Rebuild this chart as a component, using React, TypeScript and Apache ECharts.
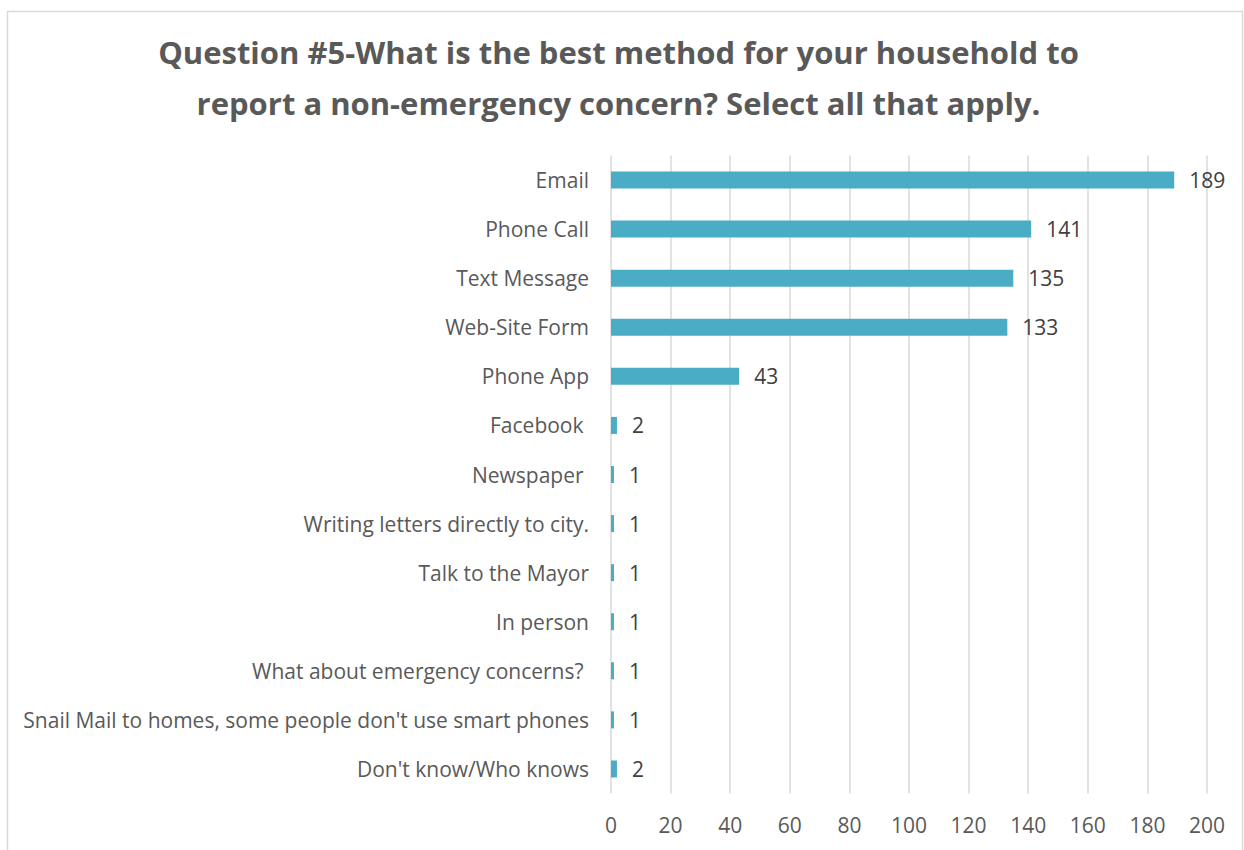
import React, { useEffect, useRef } from "react";
import * as echarts from "echarts";

const categories = [
  "Email",
  "Phone Call",
  "Text Message",
  "Web-Site Form",
  "Phone App",
  "Facebook ",
  "Newspaper ",
  "Writing letters directly to city.",
  "Talk to the Mayor",
  "In person",
  "What about emergency concerns? ",
  "Snail Mail to homes, some people don't use smart phones",
  "Don't know/Who knows",
];
const values = [189, 141, 135, 133, 43, 2, 1, 1, 1, 1, 1, 1, 2];
const titleLines = [
  "Question #5-What is the best method for your household to",
  "report a non-emergency concern? Select all that apply.",
];
const xMin = 0;
const xMax = 200;
const xStep = 20;

const FONT = "'Open Sans', sans-serif";

export default function App() {
  const ref = useRef<HTMLDivElement>(null);
  useEffect(() => {
    if (!ref.current) return;
    const chart = echarts.init(ref.current, undefined, { renderer: "svg" });
    chart.setOption({
      animation: false,
      backgroundColor: "#ffffff",
      graphic: [
        {
          type: "rect",
          shape: { x: 7.5, y: 11.5, width: 1235, height: 860 },
          style: { fill: "none", stroke: "#d9d9d9", lineWidth: 1.5 },
          silent: true,
        },
        {
          type: "text",
          x: 618.5,
          y: 52,
          style: {
            text: titleLines[0],
            textAlign: "center",
            textVerticalAlign: "middle",
            fill: "#595959",
            font: `bold 31px ${FONT}`,
          },
        },
        {
          type: "text",
          x: 618.5,
          y: 103,
          style: {
            text: titleLines[1],
            textAlign: "center",
            textVerticalAlign: "middle",
            fill: "#595959",
            font: `bold 31px ${FONT}`,
          },
        },
      ],
      grid: { left: 611, top: 155.5, width: 596, height: 638, containLabel: false },
      xAxis: {
        type: "value",
        min: xMin,
        max: xMax,
        interval: xStep,
        axisLine: { show: false },
        axisTick: { show: false },
        axisLabel: { color: "#595959", fontSize: 21, fontFamily: FONT, margin: 21 },
        splitLine: { show: true, lineStyle: { color: "#d9d9d9", width: 1.5 } },
      },
      yAxis: {
        type: "category",
        data: categories,
        inverse: true,
        axisLine: { show: false },
        axisTick: { show: false },
        axisLabel: { color: "#595959", fontSize: 21, fontFamily: FONT, margin: 22 },
      },
      series: [
        {
          type: "bar",
          data: values,
          barWidth: 17,
          itemStyle: { color: "#4bacc6" },
          label: {
            show: true,
            position: "right",
            distance: 15,
            color: "#404040",
            fontSize: 21,
            fontFamily: FONT,
          },
        },
      ],
    });
    return () => chart.dispose();
  }, []);
  return (
    <div
      ref={ref}
      style={{ position: "absolute", left: 0, top: 0, width: 1244, height: 850 }}
    />
  );
}
